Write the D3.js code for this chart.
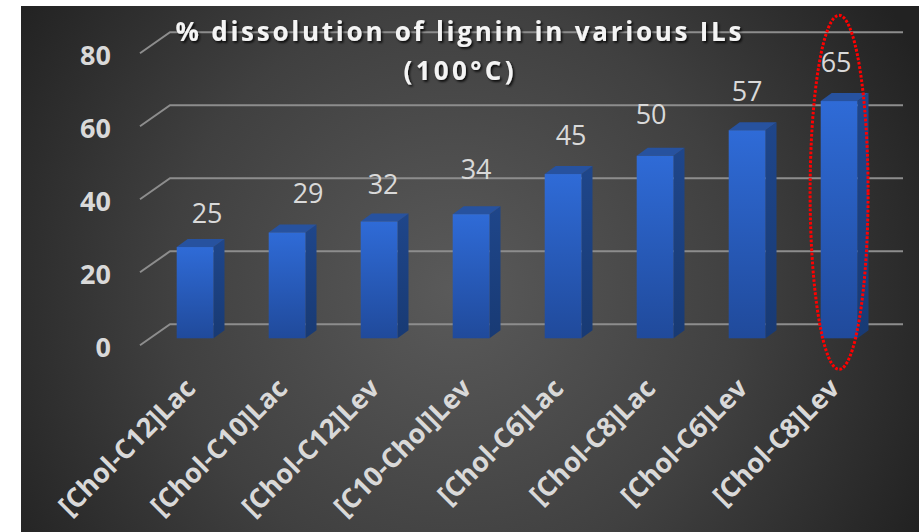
<!DOCTYPE html>
<html>
<head>
<meta charset="utf-8">
<script src="https://cdn.jsdelivr.net/npm/d3@7"></script>
<style>
  html, body { margin: 0; padding: 0; background: #ffffff; }
  svg { display: block; }
</style>
</head>
<body>
<svg id="chart" width="919" height="532"></svg>
<script>
// ---- data ----
const categories = ["[Chol-C12]Lac", "[Chol-C10]Lac", "[Chol-C12]Lev", "[C10-Chol]Lev",
                    "[Chol-C6]Lac", "[Chol-C8]Lac", "[Chol-C6]Lev", "[Chol-C8]Lev"];
const dissolution = [25, 29, 32, 34, 45, 50, 57, 65];
const yTicks = [0, 20, 40, 60, 80];
const titleLines = ["% dissolution of lignin in various ILs", "(100°C)"];
const highlighted = "[Chol-C8]Lev";

// hand-placed value label offsets (px)
const labelNudgeX = [12, 21, 4, 5, 8, -4, 0, -3];
const labelNudgeY = [5, 0, 1, -6, 0, -3, 0, 0];

// ---- layout ----
const W = 919, H = 532;
const panel = { x: 21, y: 6 };             // plot area panel (white margin outside)
const depth = { dx: 11, dy: -8 };          // bar extrusion
const wall = { dy: -14, frontX: 140, backX: 170, frontDy: 7, right: 903 };

const svg = d3.select("#chart");
const defs = svg.append("defs");

const bg = defs.append("radialGradient").attr("id", "bg")
  .attr("gradientUnits", "userSpaceOnUse")
  .attr("cx", 455).attr("cy", 290).attr("r", 520);
bg.append("stop").attr("offset", 0).attr("stop-color", "#5a5a5a");
bg.append("stop").attr("offset", 0.55).attr("stop-color", "#404040");
bg.append("stop").attr("offset", 1).attr("stop-color", "#222222");

function vGrad(id, top, bottom) {
  const g = defs.append("linearGradient").attr("id", id)
    .attr("x1", 0).attr("y1", 0).attr("x2", 0).attr("y2", 1);
  g.append("stop").attr("offset", 0).attr("stop-color", top);
  g.append("stop").attr("offset", 1).attr("stop-color", bottom);
}
vGrad("barFront", "#2f6bd7", "#204a9b");
vGrad("barSide", "#1f468a", "#183a74");

const shadow = defs.append("filter").attr("id", "titleShadow")
  .attr("x", "-5%").attr("y", "-20%").attr("width", "110%").attr("height", "150%");
shadow.append("feDropShadow").attr("dx", 1.6).attr("dy", 1.8)
  .attr("stdDeviation", 0.8).attr("flood-color", "#000").attr("flood-opacity", 0.85);

svg.append("rect")
  .attr("x", panel.x).attr("y", panel.y)
  .attr("width", W - panel.x).attr("height", H - panel.y)
  .attr("fill", "url(#bg)");

// ---- scales ----
const x = d3.scaleBand().domain(categories)
  .range([149.1, 885.1]).paddingInner(0.6).paddingOuter(0.3);
const y = d3.scaleLinear().domain([0, 80]).range([338.3, 46.3]);

// ---- gridlines on back wall with side-wall diagonals ----
const grid = svg.append("g").attr("fill", "none")
  .attr("stroke", "#8d8d8d").attr("stroke-width", 2);
grid.selectAll("path").data(yTicks).join("path")
  .attr("d", v => {
    const yb = y(v) + wall.dy;
    return `M${wall.frontX},${yb + 21}L${wall.backX},${yb}L${wall.right},${yb}`;
  });

// y tick labels
svg.append("g").selectAll("text").data(yTicks).join("text")
  .attr("x", 111).attr("y", v => y(v) + wall.frontDy + 1)
  .attr("text-anchor", "end").attr("dominant-baseline", "central")
  .attr("font-family", "'Open Sans', sans-serif").attr("font-weight", 700)
  .attr("font-size", 27).attr("fill", "#d9d9d9")
  .text(v => v);

// ---- 3D bars ----
const bars = svg.append("g").selectAll("g")
  .data(categories.map((c, i) => ({ c, v: dissolution[i], i })))
  .join("g");

bars.append("path") // side face
  .attr("fill", "url(#barSide)")
  .attr("d", d => {
    const x1 = x(d.c) + x.bandwidth(), yt = y(d.v), yb = y(0);
    return `M${x1},${yt}L${x1 + depth.dx},${yt + depth.dy}L${x1 + depth.dx},${yb + depth.dy}L${x1},${yb}Z`;
  });
bars.append("path") // top face
  .attr("fill", "#27529f")
  .attr("d", d => {
    const x0 = x(d.c), x1 = x0 + x.bandwidth(), yt = y(d.v);
    return `M${x0},${yt}L${x0 + depth.dx},${yt + depth.dy}L${x1 + depth.dx},${yt + depth.dy}L${x1},${yt}Z`;
  });
bars.append("rect") // front face
  .attr("fill", "url(#barFront)")
  .attr("x", d => x(d.c)).attr("width", x.bandwidth())
  .attr("y", d => y(d.v)).attr("height", d => y(0) - y(d.v));

// value labels
svg.append("g").selectAll("text")
  .data(categories.map((c, i) => ({ c, v: dissolution[i], i })))
  .join("text")
  .attr("x", d => x(d.c) + x.bandwidth() / 2 + labelNudgeX[d.i])
  .attr("y", d => y(d.v) - 29 + labelNudgeY[d.i])
  .attr("text-anchor", "middle")
  .attr("font-family", "'Open Sans', sans-serif").attr("font-size", 27)
  .attr("fill", "#d9d9d9")
  .text(d => d.v);

// category labels, rotated
svg.append("g").selectAll("text").data(categories).join("text")
  .attr("transform", c => `translate(${x(c) + x.bandwidth() / 2 + 2},390) rotate(-45)`)
  .attr("text-anchor", "end")
  .attr("font-family", "'Open Sans', sans-serif").attr("font-weight", 700)
  .attr("font-size", 27).attr("fill", "#d9d9d9")
  .text(c => c);

// title
const title = svg.append("g").attr("filter", "url(#titleShadow)")
  .attr("font-family", "'Open Sans', sans-serif").attr("font-weight", 700)
  .attr("font-size", 26).attr("fill", "#f4f4f4").attr("text-anchor", "middle");
const titleLen = [566, 110];
const titleY = [41, 80];
titleLines.forEach((t, i) => {
  title.append("text").attr("x", 458.5).attr("y", titleY[i])
    .attr("textLength", titleLen[i]).attr("lengthAdjust", "spacing")
    .text(t);
});

// highlight ring around the top performer
const hx = x(highlighted) + x.bandwidth() / 2;
svg.append("ellipse")
  .attr("cx", hx).attr("cy", (y(0) + y(80)) / 2)
  .attr("rx", 29).attr("ry", (y(0) - y(80)) / 2 + 31)
  .attr("fill", "none").attr("stroke", "#ff0000")
  .attr("stroke-width", 3).attr("stroke-dasharray", "2.7 1.7");
</script>
</body>
</html>
